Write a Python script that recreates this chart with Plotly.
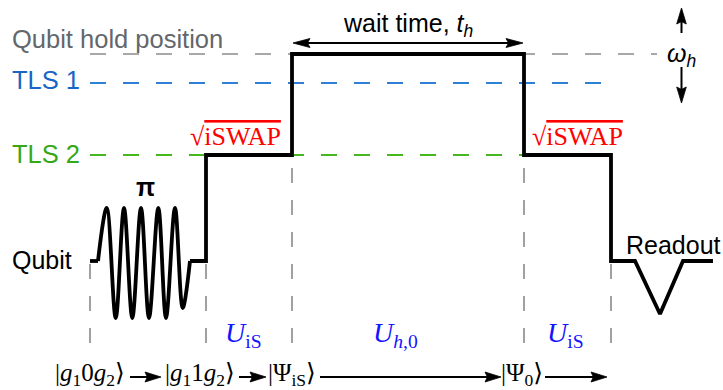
import plotly.graph_objects as go
import math

W, H = 723, 390
SANS = "Liberation Sans, Arial, sans-serif"
SERIF = "Liberation Serif, DejaVu Serif, serif"

# ---- energy levels (horizontal dashed references) ----
level_names = ["Qubit hold position", "TLS 1", "TLS 2"]
level_y = [54, 83, 155]
level_x_start = [90, 90, 90]
level_x_end = [657, 615, 618]
level_line_colors = ["#a8a8a8", "#2f7fd6", "#46b81e"]
level_text_colors = ["#63676c", "#1766c6", "#36a818"]
level_label_x = [10, 10, 10]
level_label_y = [39, 80, 154]

# ---- flux pulse (time, level) ----
pulse_t = [90, 98, None, 190, 206, 206, 292, 292, 524, 524, 611, 611, 635, 660, 683, 713]
pulse_v = [261, 261, None, 261, 261, 155, 155, 54, 54, 155, 155, 261, 261, 314, 261, 261]

# ---- pi pulse oscillation (peaks / troughs) ----
osc_t = [98, 106.7, 115.7, 124, 132.3, 141, 149, 158.3, 166, 175, 182.7, 190]
osc_v = [261, 208, 318, 208, 318, 208, 318, 208, 318, 208, 308, 261]

# ---- vertical time markers ----
marker_t = [90, 206, 292, 524, 611]
marker_top = [263, 263, 157, 157, 263]
marker_bottom = 343

# ---- gate labels ----
gate_labels = ["<i>U</i><sub>iS</sub>", "<i>U</i><sub><i>h</i>,0</sub>", "<i>U</i><sub>iS</sub>"]
gate_x = [243, 395, 565]
gate_y = 334

# ---- state labels ----
state_labels = ["|<i>g</i><sub>1</sub>0<i>g</i><sub>2</sub>⟩",
                "|<i>g</i><sub>1</sub>1<i>g</i><sub>2</sub>⟩",
                "|Ψ<sub>iS</sub>⟩",
                "|Ψ<sub>0</sub>⟩"]
state_x = [90, 200, 292, 522]
state_y = 374

# ---- arrows (x0, y0, x1, y1) ----
state_arrows = [(130, 377, 161, 377), (239, 377, 266, 377), (320, 377, 501, 377), (545, 377, 607, 377)]
wait_arrow = (293, 43, 523, 43)
omega_arrows = [(681.5, 33, 681.5, 8), (681.5, 67, 681.5, 103)]

fig = go.Figure()

# level lines
for y, x0, x1, c in zip(level_y, level_x_start, level_x_end, level_line_colors):
    fig.add_trace(go.Scatter(x=[x0, x1], y=[y, y], mode="lines",
                             line=dict(color=c, width=2, dash="16px,17px"),
                             hoverinfo="skip", showlegend=False))

# vertical markers
for t, top in zip(marker_t, marker_top):
    fig.add_trace(go.Scatter(x=[t, t], y=[marker_bottom, top], mode="lines",
                             line=dict(color="#a0a0a0", width=2, dash="15px,17px"),
                             hoverinfo="skip", showlegend=False))

# pulse
fig.add_trace(go.Scatter(x=pulse_t, y=pulse_v, mode="lines",
                         line=dict(color="black", width=3.8),
                         hoverinfo="skip", showlegend=False))
fig.add_trace(go.Scatter(x=osc_t, y=osc_v, mode="lines",
                         line=dict(color="black", width=3.8, shape="spline", smoothing=1.0),
                         hoverinfo="skip", showlegend=False))


def arrow(x0, y0, x1, y1, L, Wd, lw, both=False):
    dx, dy = x1 - x0, y1 - y0
    n = math.hypot(dx, dy)
    ux, uy = dx / n, dy / n
    s0x = x0 + ux * L * 0.8 if both else x0
    s0y = y0 + uy * L * 0.8 if both else y0
    fig.add_trace(go.Scatter(x=[s0x, x1 - ux * L * 0.8], y=[s0y, y1 - uy * L * 0.8],
                             mode="lines", line=dict(color="black", width=lw),
                             hoverinfo="skip", showlegend=False))
    ends = [(x1, y1, ux, uy)]
    if both:
        ends.append((x0, y0, -ux, -uy))
    for ex, ey, vx, vy in ends:
        qx, qy = -vy, vx
        hx = [ex, ex - vx * L + qx * Wd, ex - vx * L * 0.85, ex - vx * L - qx * Wd, ex]
        hy = [ey, ey - vy * L + qy * Wd, ey - vy * L * 0.85, ey - vy * L - qy * Wd, ey]
        fig.add_trace(go.Scatter(x=hx, y=hy, mode="lines", fill="toself",
                                 fillcolor="black", line=dict(color="black", width=0.8),
                                 hoverinfo="skip", showlegend=False))


for a in state_arrows:
    arrow(*a, L=16, Wd=5, lw=2)
arrow(*wait_arrow, L=17, Wd=4.5, lw=2, both=True)
for a in omega_arrows:
    arrow(*a, L=16, Wd=4.8, lw=2)

ann = []
for name, x, y, c in zip(level_names, level_label_x, level_label_y, level_text_colors):
    ann.append(dict(x=x, y=y, text=name, xanchor="left", yanchor="middle",
                    font=dict(family=SANS, size=25.5, color=c)))
ann.append(dict(x=10, y=260, text="Qubit", xanchor="left", yanchor="middle",
                font=dict(family=SANS, size=25, color="black")))
ann.append(dict(x=624, y=245, text="Readout", xanchor="left", yanchor="middle",
                font=dict(family=SANS, size=25, color="black")))
ann.append(dict(x=145, y=187, text="<b>π</b>", xanchor="center", yanchor="middle",
                font=dict(family=SANS, size=25, color="black")))
ann.append(dict(x=341, y=25, text="wait time, <i>t</i><sub><i>h</i></sub>", xanchor="left", yanchor="middle",
                font=dict(family=SANS, size=25, color="black")))
ann.append(dict(x=681, y=55, text="<i>ω</i><sub><i>h</i></sub>", xanchor="center", yanchor="middle",
                font=dict(family=SANS, size=25, color="black")))
for x in [188, 530]:
    ann.append(dict(x=x, y=136, text="√<span style='text-decoration:overline'>iSWAP</span>",
                    xanchor="left", yanchor="middle",
                    font=dict(family=SERIF, size=26, color="#ff0000")))
for t, x in zip(gate_labels, gate_x):
    ann.append(dict(x=x, y=gate_y, text=t, xanchor="center", yanchor="middle",
                    font=dict(family=SERIF, size=28, color="#1414ff")))
for t, x in zip(state_labels, state_x):
    ann.append(dict(x=x, y=state_y, text=t, xanchor="center", yanchor="middle",
                    font=dict(family=SERIF, size=25, color="black")))
for a in ann:
    a.update(xref="x", yref="y", showarrow=False)

fig.update_layout(width=W, height=H, margin=dict(l=0, r=0, t=0, b=0),
                  paper_bgcolor="white", plot_bgcolor="white",
                  xaxis=dict(range=[0, W], visible=False, fixedrange=True),
                  yaxis=dict(range=[H, 0], visible=False, fixedrange=True),
                  annotations=ann, showlegend=False)
fig.write_html("out.html")
